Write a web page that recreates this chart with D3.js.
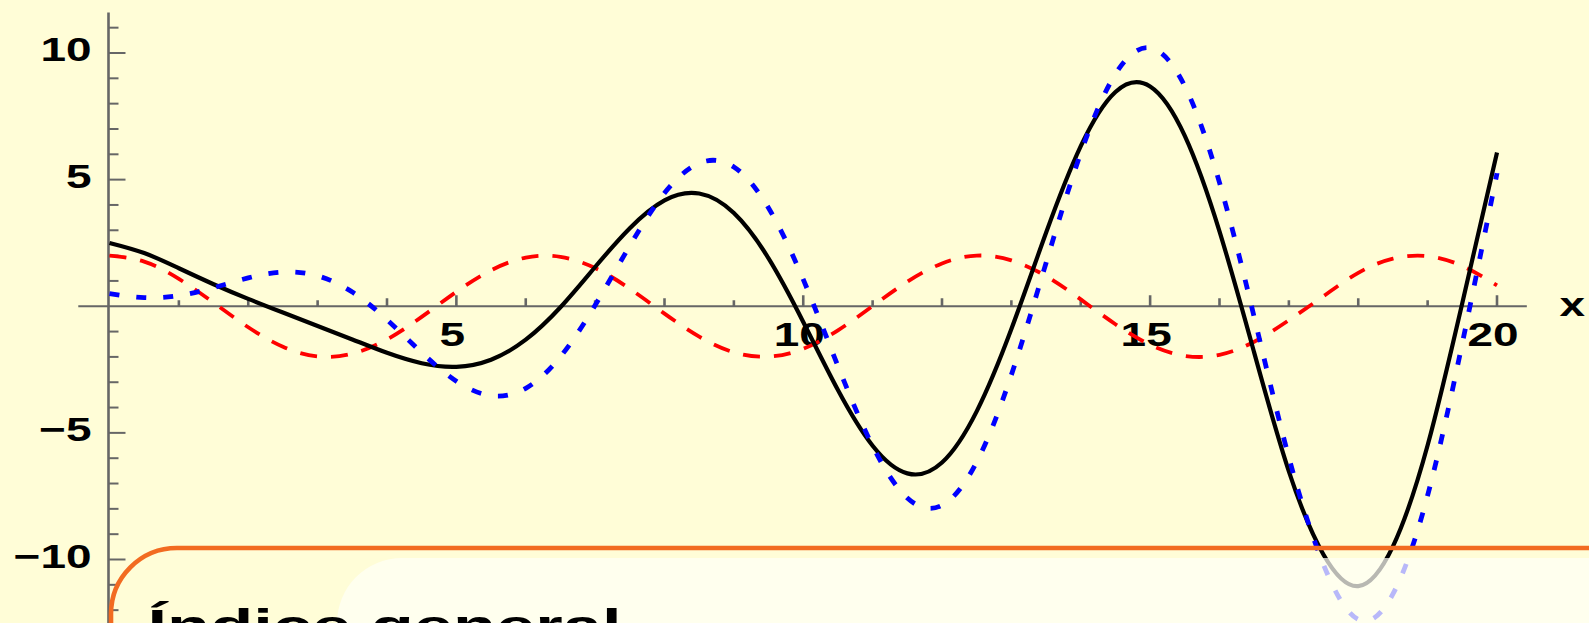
<!DOCTYPE html>
<html>
<head>
<meta charset="utf-8">
<script src="https://cdn.jsdelivr.net/npm/d3@7"></script>
<style>
  body { margin: 0; background: #fffdd7; overflow: hidden; }
  svg { display: block; }
</style>
</head>
<body>
<svg id="chart_svg" width="1589" height="623"></svg>
<script>
const g_sz = [1589, 623]; // size of svg
const g_sx = 1.35; // the picture is stretched sideways, the text follows that

// sample positions along x and the values
const g_xs = [0, 0.5, 1, 1.5, 2, 2.5, 3, 3.5, 4, 4.5, 5, 5.5, 6, 6.5, 7, 7.5, 8, 8.5, 9, 9.5, 10,
              10.5, 11, 11.5, 12, 12.5, 13, 13.5, 14, 14.5, 15, 15.5, 16, 16.5, 17, 17.5, 18, 18.5, 19, 19.5, 20];
const g_red = [2.00, 1.76, 1.08, 0.14, -0.83, -1.60, -1.98, -1.87, -1.31, -0.42, 0.57, 1.42, 1.92, 1.95, 1.51, 0.69, -0.29, -1.20, -1.82, -1.99, -1.68,
               -0.95, 0.01, 0.97, 1.69, 2.00, 1.81, 1.19, 0.27, -0.71, -1.52, -1.96, -1.92, -1.40, -0.55, 0.40, 1.32, 1.88, 1.98, 1.59, 0.82];
const g_blue = [0.50, 0.34, 0.42, 0.73, 1.12, 1.35, 1.20, 0.56, -0.53, -1.83, -2.96, -3.53, -3.24, -1.99, 0.04, 2.39, 4.47, 5.65, 5.50, 3.88, 1.06,
                -2.36, -5.52, -7.57, -7.86, -6.15, -2.71, 1.71, 6.05, 9.17, 10.20, 8.69, 4.88, -0.43, -5.97, -10.21, -12.37, -11.36, -7.47, -1.46, 5.25];
const g_black = [2.50, 2.10, 1.50, 0.87, 0.29, -0.25, -0.78, -1.31, -1.84, -2.25, -2.39, -2.11, -1.32, -0.04, 1.55, 3.08, 4.18, 4.45, 3.68, 1.89, -0.62,
                 -3.31, -5.51, -6.60, -6.17, -4.15, -0.90, 2.90, 6.32, 8.46, 8.68, 6.73, 2.96, -1.83, -6.52, -9.81, -11.05, -9.48, -5.49, 0.13, 6.07];

// ticks
const g_xticks = [1, 2, 3, 4, 5, 6, 7, 8, 9, 10, 11, 12, 13, 14, 15, 16, 17, 18, 19, 20];
const g_xlabels = [5, 10, 15, 20];
const g_yticks = [-12, -11, -10, -9, -8, -7, -6, -5, -4, -3, -2, -1, 1, 2, 3, 4, 5, 6, 7, 8, 9, 10, 11];
const g_ylabels = [-10, -5, 5, 10];
const g_xext = [-0.45, 20.43], g_yext = [-13, 11.6]; // axis line extents
const g_title = "Índice general";

const svg = d3.select("#chart_svg");
svg.append("rect").attr("width", g_sz[0]).attr("height", g_sz[1]).attr("fill", "#fffdd7");

const sx = d3.scaleLinear().domain([0, 20]).range([109.5, 1497]);
const sy = d3.scaleLinear().domain([-10, 10]).range([559.5, 53]);
const axis_c = "#666666";
const fmt = v => (v < 0 ? "\u2212" + Math.abs(v) : "" + v);

// axis lines
const g_axes = svg.append("g");
g_axes.append("line")
    .attr("x1", sx(g_xext[0])).attr("x2", sx(g_xext[1]))
    .attr("y1", sy(0)).attr("y2", sy(0))
    .attr("stroke", axis_c).attr("stroke-width", 2);
g_axes.append("line")
    .attr("x1", sx(0) - 1).attr("x2", sx(0) - 1)
    .attr("y1", sy(g_yext[1])).attr("y2", sy(g_yext[0]))
    .attr("stroke", axis_c).attr("stroke-width", 2.6);

// ticks point into the plot
g_axes.selectAll(".xtick").data(g_xticks).join("line").classed("xtick", true)
    .attr("x1", d => sx(d)).attr("x2", d => sx(d))
    .attr("y1", sy(0))
    .attr("y2", d => sy(0) - (d % 5 == 0 ? 11 : (d % 2 == 0 ? 8 : 6)))
    .attr("stroke", axis_c).attr("stroke-width", 2.6);
g_axes.selectAll(".ytick").data(g_yticks).join("line").classed("ytick", true)
    .attr("x1", sx(0) - 1).attr("x2", d => sx(0) - 1 + (d % 5 == 0 ? 17 : 10))
    .attr("y1", d => sy(d)).attr("y2", d => sy(d))
    .attr("stroke", axis_c).attr("stroke-width", 2);

// tick labels
const lab_font = "'Liberation Sans', Arial, sans-serif";
g_axes.selectAll(".ylab").data(g_ylabels).join("text").classed("ylab", true)
    .attr("transform", d => "translate(91.5," + (sy(d) + 8.3) + ") scale(" + g_sx + ",1)")
    .attr("text-anchor", "end")
    .attr("font-family", lab_font).attr("font-weight", "bold").attr("font-size", 34).attr("fill", "#000")
    .text(fmt);
g_axes.selectAll(".xlab").data(g_xlabels).join("text").classed("xlab", true)
    .attr("transform", d => "translate(" + (sx(d) - 4) + ",345.5) scale(" + g_sx + ",1)")
    .attr("text-anchor", "middle")
    .attr("font-family", lab_font).attr("font-weight", "bold").attr("font-size", 34).attr("fill", "#000")
    .text(fmt);
g_axes.append("text")
    .attr("transform", "translate(1559.5,315.5) scale(" + g_sx + ",1)")
    .attr("font-family", lab_font).attr("font-weight", "bold").attr("font-size", 34).attr("fill", "#000")
    .text("x");

// curves
const line = d3.line().x((d, i) => sx(g_xs[i])).y(d => sy(d)).curve(d3.curveNatural);
const g_curves = svg.append("g").attr("fill", "none");
g_curves.append("path").datum(g_red).attr("d", line)
    .attr("stroke", "#ff0000").attr("stroke-width", 3.8).attr("stroke-dasharray", "17,14");
g_curves.append("path").datum(g_black).attr("d", line)
    .attr("stroke", "#000000").attr("stroke-width", 4.2);
g_curves.append("path").datum(g_blue).attr("d", line)
    .attr("stroke", "#0000ff").attr("stroke-width", 4.8).attr("stroke-dasharray", "10,17");

// card laid over the bottom of the chart
svg.append("rect")
    .attr("x", 337).attr("y", 558).attr("width", 1500).attr("height", 300).attr("rx", 65)
    .attr("fill", "#fffff6").attr("fill-opacity", 0.72);
svg.append("rect")
    .attr("x", 111).attr("y", 548).attr("width", 1700).attr("height", 300).attr("rx", 66)
    .attr("fill", "none").attr("stroke", "#f26b21").attr("stroke-width", 4.6);
svg.append("text")
    .attr("transform", "translate(147.5,641.5) scale(1.5,1)")
    .attr("font-family", lab_font).attr("font-weight", "bold").attr("font-size", 47).attr("fill", "#000")
    .text(g_title);
</script>
</body>
</html>
